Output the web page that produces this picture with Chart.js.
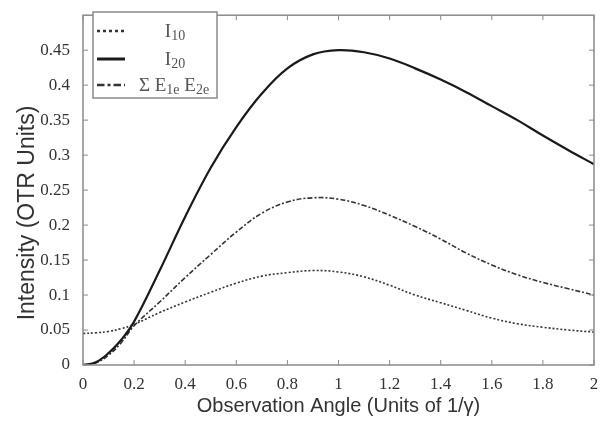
<!DOCTYPE html>
<html><head><meta charset="utf-8">
<script src="https://cdn.jsdelivr.net/npm/chart.js@4/dist/chart.umd.min.js"></script>
<style>html,body{margin:0;padding:0;background:#fff}#wrap{width:610px;height:422px}</style>
</head><body><div id="wrap"><canvas id="c" width="610" height="422"></canvas></div>
<script>
const angles = [0,0.05,0.1,0.15,0.2,0.3,0.4,0.5,0.6,0.7,0.8,0.9,1.0,1.1,1.2,1.3,1.4,1.5,1.6,1.7,1.8,1.9,2.0];
const i10 = [0.045,0.046,0.048,0.052,0.058,0.075,0.09,0.104,0.117,0.127,0.132,0.135,0.133,0.126,0.114,0.1,0.089,0.078,0.067,0.059,0.054,0.05,0.047];
const i20 = [0,0.004,0.017,0.036,0.062,0.135,0.212,0.282,0.34,0.388,0.424,0.444,0.45,0.447,0.438,0.424,0.408,0.39,0.37,0.35,0.328,0.307,0.287];
const sumE = [0,0.003,0.014,0.032,0.056,0.09,0.125,0.158,0.19,0.217,0.233,0.239,0.237,0.228,0.214,0.198,0.18,0.16,0.143,0.129,0.118,0.109,0.1];
const xTicks = [0,0.2,0.4,0.6,0.8,1,1.2,1.4,1.6,1.8,2];
const yTicks = [0,0.05,0.1,0.15,0.2,0.25,0.3,0.35,0.4,0.45];
// legend labels as [base, subscript] pieces
const legendLabels = [[['I',0],['10',1]],[['I',0],['20',1]],[['\u03A3 E',0],['1e',1],[' E',0],['2e',1]]];
const seriesNames = ['I10','I20','\u03A3 E1e E2e'];
const xTitle = 'Observation Angle (Units of 1/\u03B3)';
const yTitle = 'Intensity (OTR Units)';

const pts = arr => angles.map((a,i)=>({x:a,y:arr[i]}));
const styles = [
  {dash:[2,2], w:1.6, c:'#333'},
  {dash:[], w:2.2, c:'#1a1a1a'},
  {dash:[5,2,2,2], w:1.6, c:'#333'}
];

const frame = {
  id:'frame',
  afterDraw(chart){
    const {ctx, chartArea:a, scales:{x,y}} = chart;
    ctx.save();
    ctx.strokeStyle='#8a8a8a'; ctx.lineWidth=1.5;
    ctx.strokeRect(a.left,a.top,a.right-a.left,a.bottom-a.top);
    ctx.lineWidth=1;
    xTicks.forEach(v=>{const px=x.getPixelForValue(v);
      ctx.beginPath();ctx.moveTo(px,a.bottom);ctx.lineTo(px,a.bottom-5);
      ctx.moveTo(px,a.top);ctx.lineTo(px,a.top+5);ctx.stroke();});
    yTicks.forEach(v=>{const py=y.getPixelForValue(v);
      ctx.beginPath();ctx.moveTo(a.left,py);ctx.lineTo(a.left+5,py);
      ctx.moveTo(a.right,py);ctx.lineTo(a.right-5,py);ctx.stroke();});
    // y title
    ctx.save();
    ctx.translate(28,213);ctx.rotate(-Math.PI/2);
    ctx.fillStyle='#333';ctx.font='23px "Liberation Sans", Arial, sans-serif';
    ctx.textAlign='center';ctx.textBaseline='middle';
    ctx.fillText(yTitle,0,0);
    ctx.restore();
    // legend
    const L=93,T=12,R=217,B=98;
    ctx.fillStyle='#fff';ctx.fillRect(L,T,R-L,B-T);
    ctx.strokeStyle='#8a8a8a';ctx.lineWidth=1.5;ctx.strokeRect(L,T,R-L,B-T);
    const rows=[31,59,85];
    const centers=[175,175,174];
    rows.forEach((ry,i)=>{
      const s=styles[i];
      ctx.strokeStyle=s.c;ctx.lineWidth=s.w+0.8;ctx.setLineDash(s.dash.length?s.dash.map(d=>d*1.5):[]);
      ctx.beginPath();ctx.moveTo(97,ry);ctx.lineTo(125,ry);ctx.stroke();
      ctx.setLineDash([]);
      ctx.fillStyle='#555';ctx.textBaseline='alphabetic';ctx.textAlign='left';
      const big='19px "Liberation Serif", serif', small='14px "Liberation Serif", serif';
      let tw=0;
      legendLabels[i].forEach(([t,sub])=>{ctx.font=sub?small:big;tw+=ctx.measureText(t).width;});
      let cx=centers[i]-tw/2;
      legendLabels[i].forEach(([t,sub])=>{ctx.font=sub?small:big;ctx.fillText(t,cx,ry+(sub?9:6));cx+=ctx.measureText(t).width;});
    });
    ctx.restore();
  }
};

new Chart(document.getElementById('c'),{
  type:'line',
  data:{datasets:[
    {label:seriesNames[0],data:pts(i10),borderColor:styles[0].c,borderWidth:styles[0].w,borderDash:styles[0].dash,pointRadius:0,tension:0.4,fill:false},
    {label:seriesNames[1],data:pts(i20),borderColor:styles[1].c,borderWidth:styles[1].w,borderDash:styles[1].dash,pointRadius:0,tension:0.4,fill:false},
    {label:seriesNames[2],data:pts(sumE),borderColor:styles[2].c,borderWidth:styles[2].w,borderDash:styles[2].dash,pointRadius:0,tension:0.4,fill:false}
  ]},
  options:{
    responsive:false,animation:false,
    layout:{padding:{left:0,right:16,top:6,bottom:0}},
    plugins:{legend:{display:false},tooltip:{enabled:false}},
    scales:{
      x:{type:'linear',min:0,max:2,
        afterBuildTicks(s){s.ticks=xTicks.map(v=>({value:v}));},
        afterFit(s){s.height=57;},
        grid:{display:false},border:{display:false},
        ticks:{color:'#333',font:{family:'"Liberation Serif", serif',size:17},padding:1,maxRotation:0,autoSkip:false,callback:v=>String(v)},
        title:{display:true,text:xTitle,color:'#333',font:{family:'"Liberation Sans", Arial, sans-serif',size:20},padding:{top:4}}
      },
      y:{type:'linear',min:0,max:0.5,
        afterBuildTicks(s){s.ticks=yTicks.map(v=>({value:v}));},
        afterFit(s){s.width=83;},
        grid:{display:false},border:{display:false},
        ticks:{color:'#333',font:{family:'"Liberation Serif", serif',size:17},padding:5,autoSkip:false,callback:v=>String(+v.toFixed(2))}
      }
    }
  },
  plugins:[frame]
});
</script></body></html>
